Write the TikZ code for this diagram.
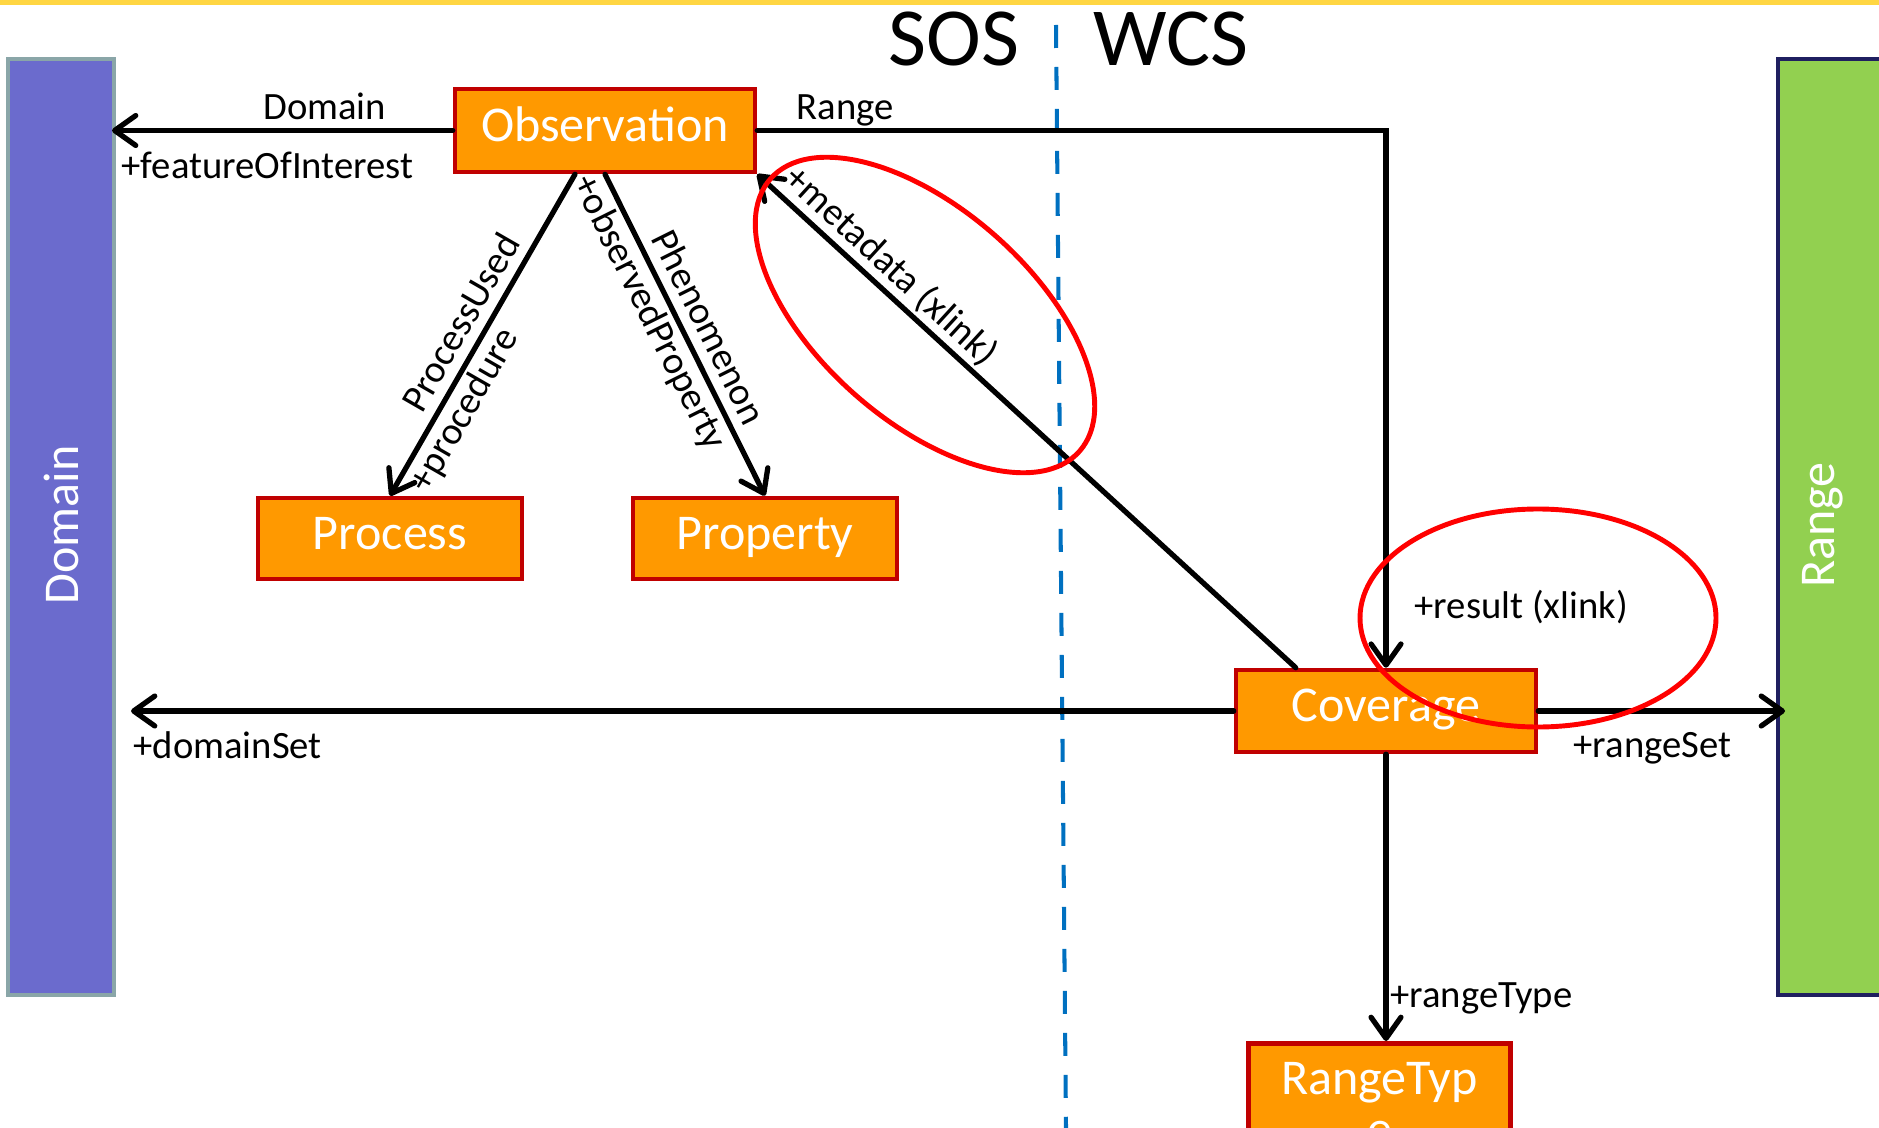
\documentclass[tikz,border=0pt]{standalone}
\usepackage{fontspec}
\setmainfont{Carlito}
\usetikzlibrary{arrows.meta}
\definecolor{clsfill}{HTML}{FF9900}
\definecolor{clsborder}{HTML}{C00000}
\definecolor{domfill}{HTML}{6B6BCD}
\definecolor{domborder}{HTML}{8AA6A8}
\definecolor{rngfill}{HTML}{92D050}
\definecolor{rngborder}{HTML}{1F1F60}
\definecolor{splitblue}{HTML}{0070C0}
\definecolor{ringred}{HTML}{FF0000}
\definecolor{topband}{HTML}{FFD643}
\tikzset{
  >={Straight Barb[length=12pt,width=17pt,round]},
  cls/.style={draw=clsborder, fill=clsfill, line width=2.6pt, text=white,
    font=\fontsize{28.5}{34}\selectfont, inner sep=0pt},
  clsline/.style={cls, text height=19.1pt, text depth=7.1pt},
  bar/.style={line width=2.3pt, minimum width=2.12cm, minimum height=18.72cm, inner sep=0pt},
  bartext/.style={rotate=90, text=white, font=\fontsize{28.5}{34}\selectfont, inner sep=0pt},
  title/.style={font=\fontsize{47}{52}\selectfont, inner sep=0pt},
  assoc/.style={line width=3pt, line cap=round},
  lbl/.style={font=\fontsize{22}{26}\selectfont, inner sep=2pt},
  ring/.style={draw=ringred, line width=2.8pt},
  split/.style={draw=splitblue, line width=2.3pt, dash pattern=on 0.46cm off 0.38cm}
}
\begin{document}
\begin{tikzpicture}[x=0.02cm, y=-0.02cm]
\useasboundingbox (0,0) rectangle (1879,1128);
\clip (0,0) rectangle (1879,1128);
\fill[topband] (0,0) rectangle (1879,5);
% side bars
\node[bar, draw=domborder, fill=domfill] (domain) at (61,527) {};
\node[bartext] (domlbl) at (61,525) {Domain};
\node[bar, draw=rngborder, fill=rngfill, minimum width=2.44cm] (range) at (1839,527) {};
\node[bartext] (rnglbl) at (1823,525) {Range};
% SOS | WCS
\draw[split] (1056,25) -- (1066,1128);
\node[title] (sos) at (954,39) {SOS};
\node[title] (wcs) at (1171,39) {WCS};
% classes
\node[clsline, minimum width=6cm, minimum height=1.66cm] (obs) at (605,130.5) {Observation};
\node[clsline, minimum width=5.28cm, minimum height=1.62cm] (proc) at (390,538.5) {Process};
\node[clsline, minimum width=5.28cm, minimum height=1.62cm] (prop) at (765,538.5) {Property};
\node[clsline, minimum width=6cm, minimum height=1.64cm] (cov) at (1386,711) {Coverage};
\node[cls, font=\fontsize{28.5}{29}\selectfont, minimum width=5.24cm, anchor=north, align=center, inner ysep=0.38cm] (rtype) at (1379.5,1041) {RangeTyp\\e};
% associations
\draw[assoc, ->, shorten >=-0.08cm] (obs.west) -- (obs.west -| domain.east)
  node[lbl, above, pos=0.38, yshift=0.1cm] (domname) {Domain}
  node[lbl, below, pos=0.55, yshift=-0.3cm] (foi) {+featureOfInterest};
\draw[assoc, ->] (obs.east) -| (cov.north)
  node[lbl, above, pos=0.07, yshift=-0.04cm] (rngname) {Range}
  node[lbl, right, pos=0.94, xshift=0.45cm, yshift=-0.08cm] (result) {+result (xlink)};
\draw[assoc, <-] (obs.south east) -- ([xshift=1.24cm]cov.north west)
  node[lbl, sloped, above, pos=0.22] (meta) {+metadata (xlink)};
\draw[assoc, <-] (proc.north) -- ([xshift=-0.6cm]obs.south)
  node[lbl, sloped, above=0.12cm, pos=0.5] (pused) {ProcessUsed}
  node[lbl, sloped, below, pos=0.3] (procd) {+procedure};
\draw[assoc, ->] (obs.south) -- (prop.north)
  node[lbl, sloped, below, pos=0.4] (obsprop) {+observedProperty}
  node[lbl, sloped, above=0.12cm, pos=0.51] (phen) {Phenomenon};
\draw[assoc, ->, shorten >=0.3cm] (cov.west) -- (cov.west -| domain.east)
  node[lbl, below, pos=0.9, yshift=-0.3cm] (dset) {+domainSet};
\draw[assoc, ->, shorten >=-0.18cm] (cov.east) -- (cov.east -| range.west)
  node[lbl, below, pos=0.48, yshift=-0.3cm] (rset) {+rangeSet};
\draw[assoc, ->] (cov.south) -- (cov.south |- rtype.north)
  node[lbl, right, pos=0.85, inner sep=1pt] (rtname) {+rangeType};
% highlighted xlinks
\draw[ring, rotate around={-41.4:(925,315)}] (925,315) ellipse (206 and 106);
\draw[ring] (1538,618) ellipse (178 and 109);
\end{tikzpicture}
\end{document}
